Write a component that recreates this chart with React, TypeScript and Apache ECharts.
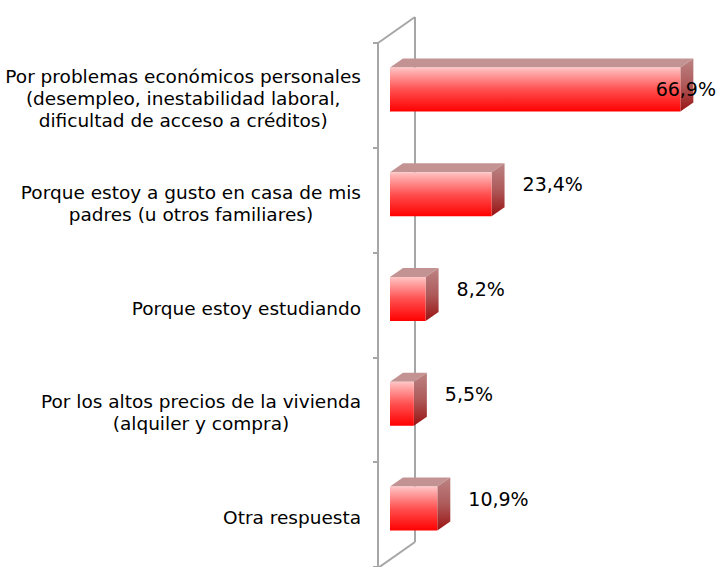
import React, { useEffect, useRef } from "react";
import * as echarts from "echarts";

const categories: string[] = [
  "Por problemas económicos personales\n(desempleo, inestabilidad laboral,\ndificultad de acceso a créditos)",
  "Porque estoy a gusto en casa de mis\npadres (u otros familiares)",
  "Porque estoy estudiando",
  "Por los altos precios de la vivienda\n(alquiler y compra)",
  "Otra respuesta",
];
const values: number[] = [66.9, 23.4, 8.2, 5.5, 10.9];

const FONT = "DejaVu Sans";
const GRID_LEFT = 378;
const GRID_TOP = 43;
const GRID_H = 525;
const X_MAX = 75;
const GRID_W = 325.5;
const WALL_DX = 37;
const WALL_DY = -26;
const AXIS_COLOR = "#A6A6A6";

export default function App() {
  const ref = useRef<HTMLDivElement>(null);
  useEffect(() => {
    if (!ref.current) return;
    const chart = echarts.init(ref.current, undefined, { renderer: "svg" });
    const bottom = GRID_TOP + GRID_H;
    const option: any = {
      animation: false,
      backgroundColor: "#ffffff",
      grid: { left: GRID_LEFT, top: GRID_TOP, width: GRID_W, height: GRID_H },
      xAxis: { type: "value", min: 0, max: X_MAX, show: false },
      yAxis: {
        type: "category",
        inverse: true,
        data: categories,
        axisLine: { show: true, lineStyle: { color: AXIS_COLOR, width: 2 } },
        axisTick: { show: true, length: 5, lineStyle: { color: AXIS_COLOR, width: 2 } },
        splitLine: { show: false },
        axisLabel: {
          margin: 17,
          align: "right",
          padding: [6, 0, 0, 0],
          formatter: (val: string) =>
            val
              .split("\n")
              .map((l) => "{c|" + l + "}")
              .join("\n"),
          rich: {
            c: {
              align: "center",
              fontSize: 18.5,
              fontFamily: FONT,
              lineHeight: 22,
              color: "#000000",
            },
          },
        },
      },
      graphic: {
        elements: [
          {
            type: "line",
            z: 0,
            shape: { x1: GRID_LEFT, y1: GRID_TOP, x2: GRID_LEFT + WALL_DX, y2: GRID_TOP + WALL_DY },
            style: { stroke: AXIS_COLOR, lineWidth: 2 },
          },
          {
            type: "line",
            z: 0,
            shape: {
              x1: GRID_LEFT + WALL_DX,
              y1: GRID_TOP + WALL_DY,
              x2: GRID_LEFT + WALL_DX,
              y2: bottom + WALL_DY,
            },
            style: { stroke: AXIS_COLOR, lineWidth: 2 },
          },
          {
            type: "line",
            z: 0,
            shape: { x1: GRID_LEFT, y1: bottom, x2: GRID_LEFT + WALL_DX, y2: bottom + WALL_DY },
            style: { stroke: AXIS_COLOR, lineWidth: 2 },
          },
        ],
      },
      series: [
        {
          type: "custom",
          z: 5,
          encode: { x: 0, y: 1 },
          data: values.map((v, i) => [v, i]),
          renderItem: (params: any, api: any) => {
            const v = api.value(0);
            const idx = api.value(1);
            const start = api.coord([0, idx]);
            const end = api.coord([v, idx]);
            const h = 44;
            const rx = 12;
            const ry = -6;
            const dx = 13;
            const dy = -9;
            const x0 = start[0] + rx;
            const x1 = end[0] + rx;
            const yc = start[1] + ry;
            const yt = yc - h / 2;
            const yb = yc + h / 2;
            const text = v.toFixed(1).replace(".", ",") + "%";
            const lx = x1 + dx + 18;
            const overflow = lx + 62 > 716;
            return {
              type: "group",
              children: [
                {
                  type: "polygon",
                  shape: {
                    points: [
                      [x0, yt],
                      [x0 + dx, yt + dy],
                      [x1 + dx, yt + dy],
                      [x1, yt],
                    ],
                  },
                  style: { fill: "#C39393" },
                },
                {
                  type: "polygon",
                  shape: {
                    points: [
                      [x1, yt],
                      [x1 + dx, yt + dy],
                      [x1 + dx, yb + dy],
                      [x1, yb],
                    ],
                  },
                  style: {
                    fill: new echarts.graphic.LinearGradient(0, 0, 0, 1, [
                      { offset: 0, color: "#BC8484" },
                      { offset: 0.5, color: "#AE5A5A" },
                      { offset: 1, color: "#9A1212" },
                    ]),
                  },
                },
                {
                  type: "rect",
                  shape: { x: x0, y: yt, width: x1 - x0, height: h },
                  style: {
                    fill: new echarts.graphic.LinearGradient(0, 0, 0, 1, [
                      { offset: 0, color: "#FFC6C6" },
                      { offset: 0.12, color: "#FFA8A8" },
                      { offset: 0.5, color: "#FF5050" },
                      { offset: 1, color: "#FF0000" },
                    ]),
                  },
                },
                {
                  type: "text",
                  style: {
                    text,
                    x: overflow ? 716 : lx,
                    y: overflow ? yc : yc - 10,
                    align: overflow ? "right" : "left",
                    verticalAlign: "middle",
                    font: "19px 'DejaVu Sans'",
                    fill: "#000000",
                  },
                },
              ],
            };
          },
        },
      ],
    };
    chart.setOption(option);
    return () => chart.dispose();
  }, []);
  return (
    <div
      ref={ref}
      style={{ position: "fixed", left: 0, top: 0, width: 718, height: 567, background: "#fff" }}
    />
  );
}
